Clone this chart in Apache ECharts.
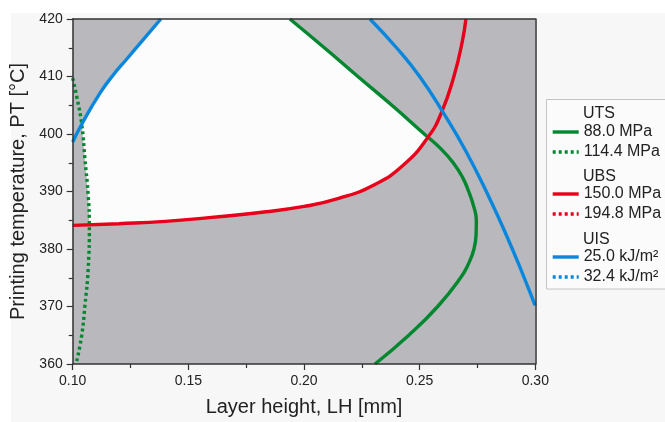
<!DOCTYPE html>
<html><head><meta charset="utf-8">
<script src="https://cdn.jsdelivr.net/npm/echarts@6/dist/echarts.min.js"></script>
<style>html,body{margin:0;padding:0;background:#fff}#c{width:665px;height:422px}</style>
</head><body><div id="c"></div>
<script>
// UTS 88.0 MPa (solid green)
const utsSolidLH = [0.1939,0.2088,0.2233,0.2380,0.2520,0.2590,0.2645,0.2685,0.2712,0.2733,0.2745,0.2744,0.2735,0.2712,0.2677,0.2578,0.2453,0.2307];
const utsSolidPT = [420,415,410,405,400,397.5,395,392.5,390,387.5,385,382.5,380,377.5,375,370,365,360];
// UTS 114.4 MPa (dotted green)
const utsDotLH = [0.1000,0.1017,0.1039,0.1053,0.1067,0.1072,0.1067,0.1053,0.1039,0.1017];
const utsDotPT = [409.7,406.6,401.7,395.6,389.3,384.1,376.6,370.2,365.0,360.4];
// UBS 150.0 MPa (solid red)
const ubsSolidLH = [0.1000,0.1200,0.1400,0.1600,0.1800,0.2000,0.2150,0.2300,0.2430,0.2537,0.2595,0.2648,0.2684,0.2700];
const ubsSolidPT = [384.1,384.4,384.8,385.5,386.3,387.4,388.8,391.1,394.6,399.5,403.8,410.0,416.0,420];
// UIS 25.0 kJ/m² (solid blue), two branches
const uisLeftLH = [0.1000,0.1039,0.1118,0.1176,0.1233,0.1305,0.1381];
const uisLeftPT = [398.6,401.7,407.1,410.3,413.0,416.4,420];
const uisRightLH = [0.2285,0.2400,0.2500,0.2602,0.2700,0.2800,0.2876,0.2950,0.2999];
const uisRightPT = [420,415.0,410.0,403.7,397.0,389.0,382.3,375.2,370.2];

const zip = (a, b) => a.map((v, i) => [v, b[i]]);
const uts = zip(utsSolidLH, utsSolidPT), utsD = zip(utsDotLH, utsDotPT);
const ubs = zip(ubsSolidLH, ubsSolidPT);
const uisL = zip(uisLeftLH, uisLeftPT), uisR = zip(uisRightLH, uisRightPT);

// feasible (white) region assembled from the bounding curves
const feasible = [].concat(
  [utsD[5]],
  ubs.slice(1, 10),
  uts.slice(0, 5).reverse(),
  uisL.slice(1).reverse(),
  utsD.slice(3, 5)
);

const GREEN = '#00872f', RED = '#e8001a', BLUE = '#0a87dc';
const FONT = 'Liberation Sans, Arial, sans-serif';
const chart = echarts.init(document.getElementById('c'));

const lineS = (name, data, color, type) => ({
  type: 'line', name, data, smooth: 0.5, symbol: 'none', z: 3,
  lineStyle: { color, width: 3.4, type: type || 'solid' }, itemStyle: { color }
});
const legendFor = (names, top) => ({
  orient: 'vertical', left: 551, top, padding: 0, itemWidth: 26, itemHeight: 14, itemGap: 0, z: 10,
  data: names, textStyle: { fontSize: 16, color: '#222', lineHeight: 20, fontFamily: FONT },
  itemStyle: { opacity: 0 }, lineStyle: { width: 3.4 },
  selectedMode: false
});
const axisCommon = {
  axisLine: { show: true, lineStyle: { color: '#333', width: 1.5 } },
  axisTick: { show: true, inside: false, length: 6, lineStyle: { color: '#333', width: 1.2 } },
  minorTick: { show: true, splitNumber: 2, length: 4, lineStyle: { color: '#333', width: 1.2 } },
  splitLine: { show: false }, z: 10
};
const frame = { axisLine: { show: true, lineStyle: { color: '#333', width: 1.5 } }, axisTick: { show: false },
  axisLabel: { show: false }, splitLine: { show: false }, z: 10 };

chart.setOption({
  backgroundColor: '#f7f7f7',
  textStyle: { fontFamily: FONT },
  animation: false,
  grid: { left: 72.7, right: 129.7, top: 19, bottom: 56.3, show: true, backgroundColor: '#b9b9bd', borderWidth: 0 },
  graphic: [
    { type: 'rect', shape: { x: 0, y: 0, width: 665, height: 13 }, style: { fill: '#ffffff' }, silent: true },
    { type: 'rect', shape: { x: 0, y: 0, width: 11, height: 422 }, style: { fill: '#ffffff' }, silent: true },
    { type: 'rect', shape: { x: 546.5, y: 99.5, width: 140, height: 189.5 }, style: { fill: '#fbfbfb', stroke: '#c4c4c4', lineWidth: 1 }, silent: true, z: 1 },
    { type: 'text', x: 583, y: 113.5, style: { text: 'UTS', fontSize: 16, fontFamily: FONT, fill: '#222', verticalAlign: 'middle' }, z: 2 },
    { type: 'text', x: 583, y: 176.5, style: { text: 'UBS', fontSize: 16, fontFamily: FONT, fill: '#222', verticalAlign: 'middle' }, z: 2 },
    { type: 'text', x: 583, y: 239.5, style: { text: 'UIS', fontSize: 16, fontFamily: FONT, fill: '#222', verticalAlign: 'middle' }, z: 2 }
  ],
  legend: [
    legendFor(['88.0 MPa', '114.4 MPa'], 122),
    legendFor(['150.0 MPa', '194.8 MPa'], 184),
    legendFor(['25.0 kJ/m²', '32.4 kJ/m²'], 247)
  ],
  xAxis: [
    Object.assign({}, axisCommon, {
      type: 'value', min: 0.1, max: 0.3, interval: 0.05, position: 'bottom',
      name: 'Layer height, LH [mm]', nameLocation: 'middle', nameGap: 33,
      nameTextStyle: { fontSize: 20, color: '#222', fontFamily: FONT },
      axisLabel: { fontSize: 14, color: '#222', margin: 10, formatter: v => v.toFixed(2) }
    }),
    Object.assign({}, frame, { type: 'value', min: 0.1, max: 0.3, position: 'top' })
  ],
  yAxis: [
    Object.assign({}, axisCommon, {
      type: 'value', min: 360, max: 420, interval: 10, position: 'left',
      name: 'Printing temperature, PT [°C]', nameLocation: 'middle', nameGap: 43,
      nameTextStyle: { fontSize: 20, color: '#222', fontFamily: FONT },
      axisLabel: { fontSize: 14, color: '#222', margin: 10 }
    }),
    Object.assign({}, frame, { type: 'value', min: 360, max: 420, position: 'right' })
  ],
  series: [
    {
      type: 'custom', name: 'feasible', z: 1, silent: true, data: [[0.2, 390]],
      renderItem: (params, api) => ({
        type: 'polygon',
        shape: { points: feasible.map(p => api.coord(p)) },
        style: { fill: '#fcfcfc' }
      })
    },
    lineS('88.0 MPa', uts, GREEN),
    lineS('114.4 MPa', utsD, GREEN, [3, 3]),
    lineS('150.0 MPa', ubs, RED),
    lineS('194.8 MPa', [], RED, [3, 3]),
    lineS('25.0 kJ/m²', uisL, BLUE),
    lineS('25.0 kJ/m²', uisR, BLUE),
    lineS('32.4 kJ/m²', [], BLUE, [3, 3])
  ]
});
</script></body></html>
